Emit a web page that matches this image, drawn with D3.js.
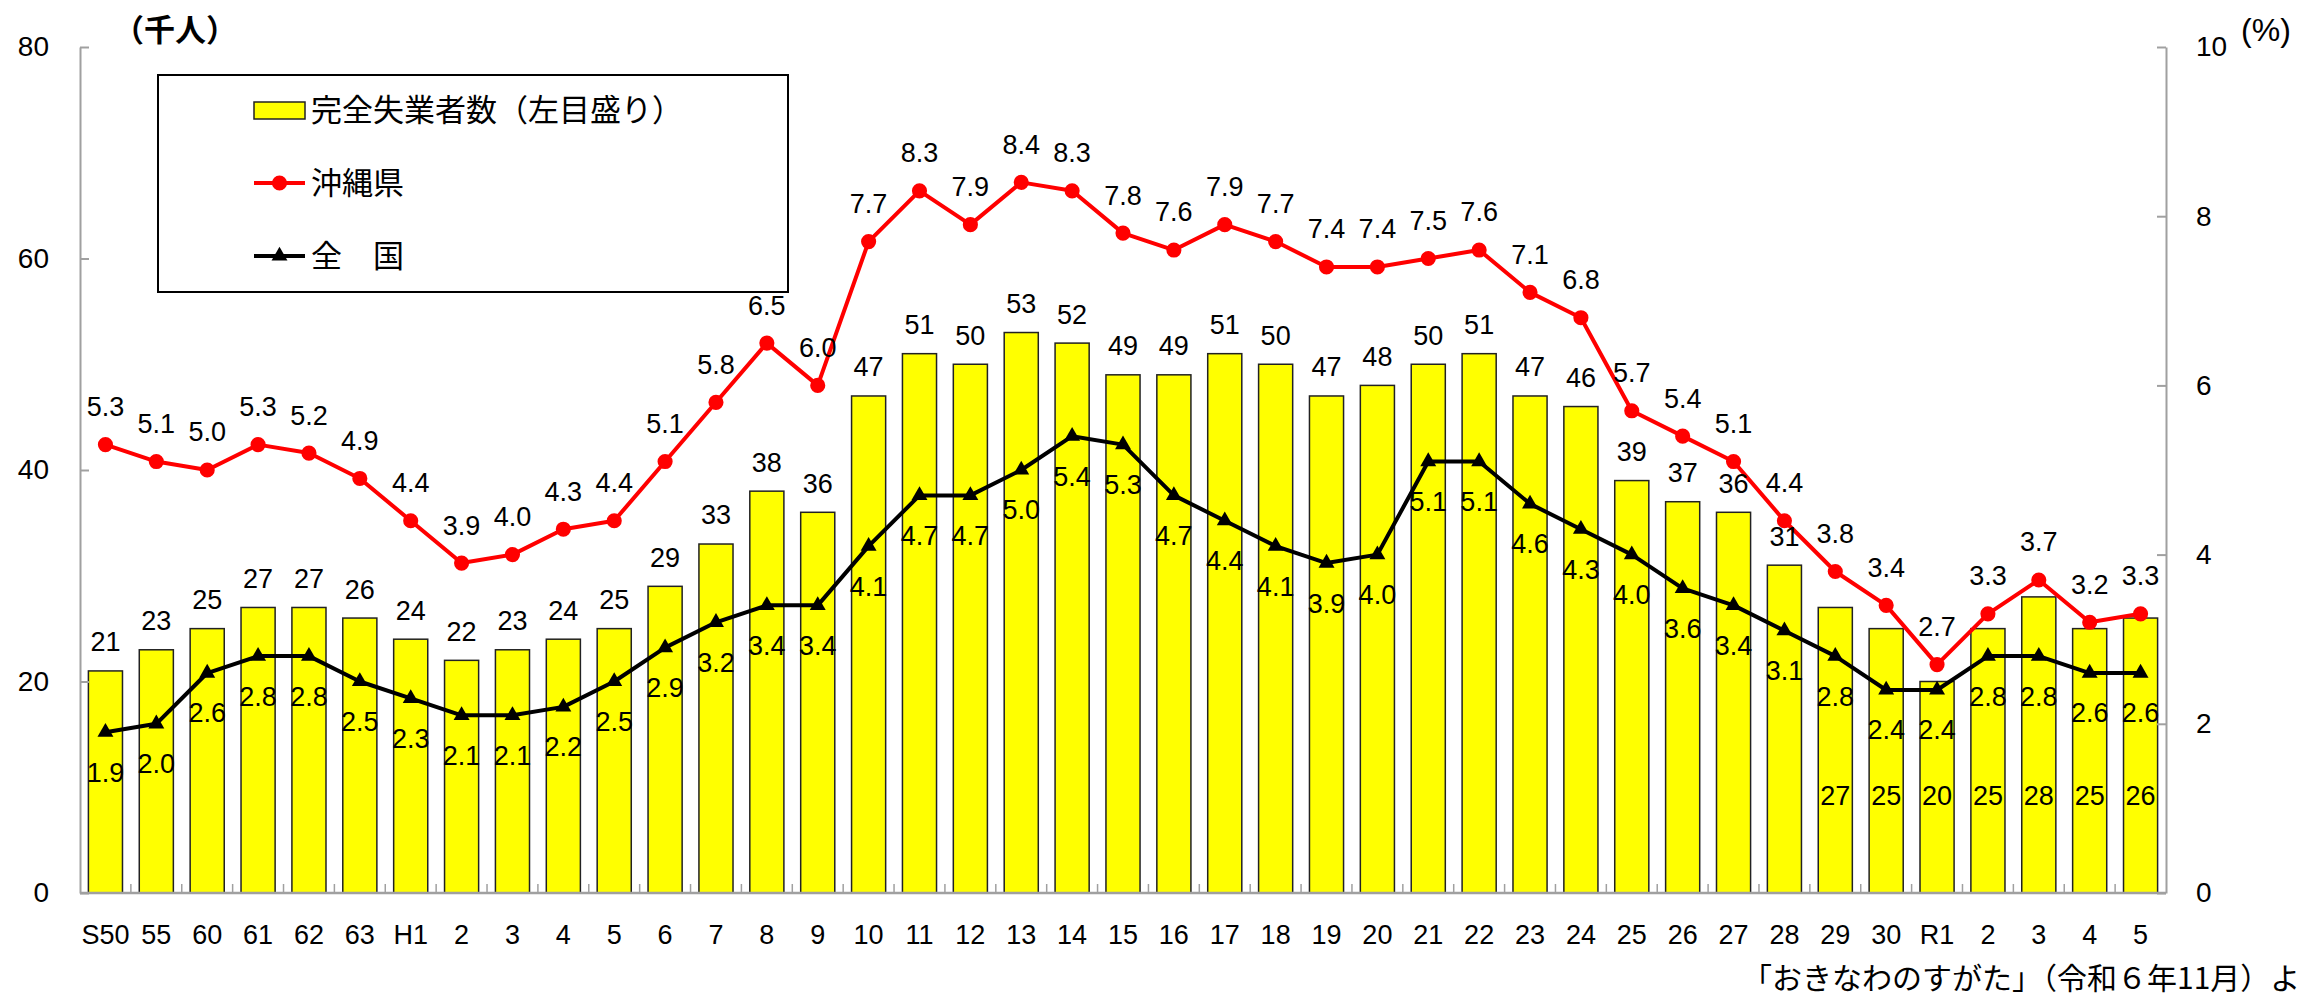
<!DOCTYPE html>
<html>
<head>
<meta charset="utf-8">
<script src="https://cdn.jsdelivr.net/npm/d3@7"></script>
<style>
  body { margin: 0; background: #fff; }
  svg text { font-family: "Liberation Sans", "Noto Sans CJK JP", sans-serif; fill: #000; }
  svg text.jp { font-family: "Noto Sans CJK JP", sans-serif; }
</style>
</head>
<body>
<div id="chart"></div>
<script>
// year labels (S = Showa, H = Heisei, R = Reiwa)
var categories = ["S50","55","60","61","62","63","H1","2","3","4","5","6","7","8","9","10",
  "11","12","13","14","15","16","17","18","19","20","21","22","23","24","25","26","27","28",
  "29","30","R1","2","3","4","5"];
// 完全失業者数 (千人)
var unemployed = [21,23,25,27,27,26,24,22,23,24,25,29,33,38,36,47,51,50,53,52,49,49,51,50,
  47,48,50,51,47,46,39,37,36,31,27,25,20,25,28,25,26];
// 沖縄県 失業率 (%)
var okinawaRate = [5.3,5.1,5.0,5.3,5.2,4.9,4.4,3.9,4.0,4.3,4.4,5.1,5.8,6.5,6.0,7.7,8.3,7.9,
  8.4,8.3,7.8,7.6,7.9,7.7,7.4,7.4,7.5,7.6,7.1,6.8,5.7,5.4,5.1,4.4,3.8,3.4,2.7,3.3,3.7,3.2,3.3];
// 全国 失業率 (%)
var nationalRate = [1.9,2.0,2.6,2.8,2.8,2.5,2.3,2.1,2.1,2.2,2.5,2.9,3.2,3.4,3.4,4.1,4.7,4.7,
  5.0,5.4,5.3,4.7,4.4,4.1,3.9,4.0,5.1,5.1,4.6,4.3,4.0,3.6,3.4,3.1,2.8,2.4,2.4,2.8,2.8,2.6,2.6];
var leftTicks = [0,20,40,60,80];
var rightTicks = [0,2,4,6,8,10];
var legendLabels = ["完全失業者数（左目盛り）","沖縄県","全　国"];

var W = 2305, H = 994;
var plotLeft = 80, plotRight = 2166, plotTop = 47, plotBottom = 893;

var svg = d3.select("#chart").append("svg")
  .attr("width", W).attr("height", H);

var x = d3.scaleBand()
  .domain(d3.range(categories.length))
  .range([plotLeft, plotRight])
  .paddingInner(0.33)
  .paddingOuter(0.165);
var yL = d3.scaleLinear().domain([0, 80]).range([plotBottom, plotTop]);
var yR = d3.scaleLinear().domain([0, 10]).range([plotBottom, plotTop]);
var cx = function(i){ return x(i) + x.bandwidth()/2; };

// bars
svg.append("g").selectAll("rect")
  .data(unemployed)
  .enter().append("rect")
  .attr("x", function(d,i){ return x(i); })
  .attr("y", function(d){ return yL(d); })
  .attr("width", x.bandwidth())
  .attr("height", function(d){ return yL(0) - yL(d); })
  .attr("fill", "#ffff00")
  .attr("stroke", "#222")
  .attr("stroke-width", 1.5);

// axes
var axisColor = "#a0a0a0";
var gl = svg.append("g").attr("transform", "translate(" + plotLeft + ",0)")
  .call(d3.axisLeft(yL).tickValues(leftTicks).tickSizeInner(-9).tickSizeOuter(0).tickPadding(31));
var gr = svg.append("g").attr("transform", "translate(" + plotRight + ",0)")
  .call(d3.axisRight(yR).tickValues(rightTicks).tickSizeInner(-9).tickSizeOuter(0).tickPadding(30));
[gl, gr].forEach(function(g){
  g.select(".domain").attr("stroke", axisColor).attr("stroke-width", 2);
  g.selectAll(".tick line").attr("stroke", axisColor).attr("stroke-width", 2);
  g.selectAll(".tick text").attr("font-size", 28).attr("font-family", null);
});

// bottom axis with boundary ticks
var gx = svg.append("g");
gx.append("line").attr("x1", plotLeft).attr("x2", plotRight).attr("y1", plotBottom).attr("y2", plotBottom)
  .attr("stroke", axisColor).attr("stroke-width", 2.5);
gx.selectAll("line.tk")
  .data(d3.range(1, categories.length))
  .enter().append("line").attr("class", "tk")
  .attr("x1", function(i){ return x(i) - x.step()*x.paddingInner()/2; })
  .attr("x2", function(i){ return x(i) - x.step()*x.paddingInner()/2; })
  .attr("y1", plotBottom).attr("y2", plotBottom - 9)
  .attr("stroke", axisColor).attr("stroke-width", 1.5);
gx.selectAll("text")
  .data(categories)
  .enter().append("text")
  .attr("x", function(d,i){ return cx(i); })
  .attr("y", plotBottom + 42)
  .attr("dy", "0.35em")
  .attr("text-anchor", "middle")
  .attr("font-size", 27)
  .text(function(d){ return d; });

// lines
function drawLine(data, color, marker) {
  var line = d3.line()
    .x(function(d,i){ return cx(i); })
    .y(function(d){ return yR(d); });
  svg.append("path").datum(data)
    .attr("d", line)
    .attr("fill", "none")
    .attr("stroke", color)
    .attr("stroke-width", 4)
    .attr("stroke-linejoin", "round");
  svg.append("g").selectAll("path")
    .data(data)
    .enter().append("path")
    .attr("transform", function(d,i){ return "translate(" + cx(i) + "," + yR(d) + ")"; })
    .attr("d", d3.symbol().type(marker).size(marker === d3.symbolCircle ? 180 : 110))
    .attr("fill", color);
}
drawLine(okinawaRate, "#ff0000", d3.symbolCircle);
drawLine(nationalRate, "#000", d3.symbolTriangle);

// data labels
var lbl = svg.append("g").attr("font-size", 27).attr("text-anchor", "middle");
lbl.selectAll("text.bar")
  .data(unemployed)
  .enter().append("text").attr("class", "bar")
  .attr("x", function(d,i){ return cx(i); })
  .attr("y", function(d,i){ return i >= 34 ? yL(9.2) : yL(d) - 29; })
  .attr("dy", "0.35em")
  .text(function(d){ return d; });
lbl.selectAll("text.ok")
  .data(okinawaRate)
  .enter().append("text").attr("class", "ok")
  .attr("x", function(d,i){ return cx(i); })
  .attr("y", function(d){ return yR(d) - 38; })
  .attr("dy", "0.35em")
  .text(function(d){ return d.toFixed(1); });
lbl.selectAll("text.nat")
  .data(nationalRate)
  .enter().append("text").attr("class", "nat")
  .attr("x", function(d,i){ return cx(i); })
  .attr("y", function(d){ return yR(d) + 40; })
  .attr("dy", "0.35em")
  .text(function(d){ return d.toFixed(1); });

// unit labels
svg.append("text").attr("class", "jp")
  .attr("x", 175).attr("y", 30).attr("dy", "0.35em")
  .attr("text-anchor", "middle").attr("font-size", 31).attr("font-weight", "bold")
  .text("（千人）");
svg.append("text")
  .attr("x", 2266).attr("y", 30).attr("dy", "0.35em")
  .attr("text-anchor", "middle").attr("font-size", 32)
  .text("(%)");

// legend
var lg = svg.append("g");
lg.append("rect").attr("x", 158).attr("y", 75).attr("width", 630).attr("height", 217)
  .attr("fill", "#fff").attr("stroke", "#000").attr("stroke-width", 2);
var rows = [110, 183, 256];
lg.append("rect").attr("x", 254).attr("y", rows[0] - 8).attr("width", 51).attr("height", 17)
  .attr("fill", "#ffff00").attr("stroke", "#222").attr("stroke-width", 1.5);
lg.append("line").attr("x1", 254).attr("x2", 305).attr("y1", rows[1]).attr("y2", rows[1])
  .attr("stroke", "#ff0000").attr("stroke-width", 4);
lg.append("path").attr("transform", "translate(279.5," + rows[1] + ")")
  .attr("d", d3.symbol().type(d3.symbolCircle).size(180)).attr("fill", "#ff0000");
lg.append("line").attr("x1", 254).attr("x2", 305).attr("y1", rows[2]).attr("y2", rows[2])
  .attr("stroke", "#000").attr("stroke-width", 4);
lg.append("path").attr("transform", "translate(279.5," + rows[2] + ")")
  .attr("d", d3.symbol().type(d3.symbolTriangle).size(110)).attr("fill", "#000");
lg.selectAll("text.leg")
  .data(legendLabels)
  .enter().append("text").attr("class", "jp leg")
  .attr("x", 311).attr("y", function(d,i){ return rows[i]; })
  .attr("dy", "0.35em").attr("font-size", 31)
  .text(function(d){ return d; });

// source (runs past the right edge as in the original)
svg.append("text").attr("class", "jp")
  .attr("x", 1742).attr("y", 978).attr("dy", "0.35em").attr("font-size", 30)
  .text("「おきなわのすがた」（令和６年11月）より");
</script>
</body>
</html>
